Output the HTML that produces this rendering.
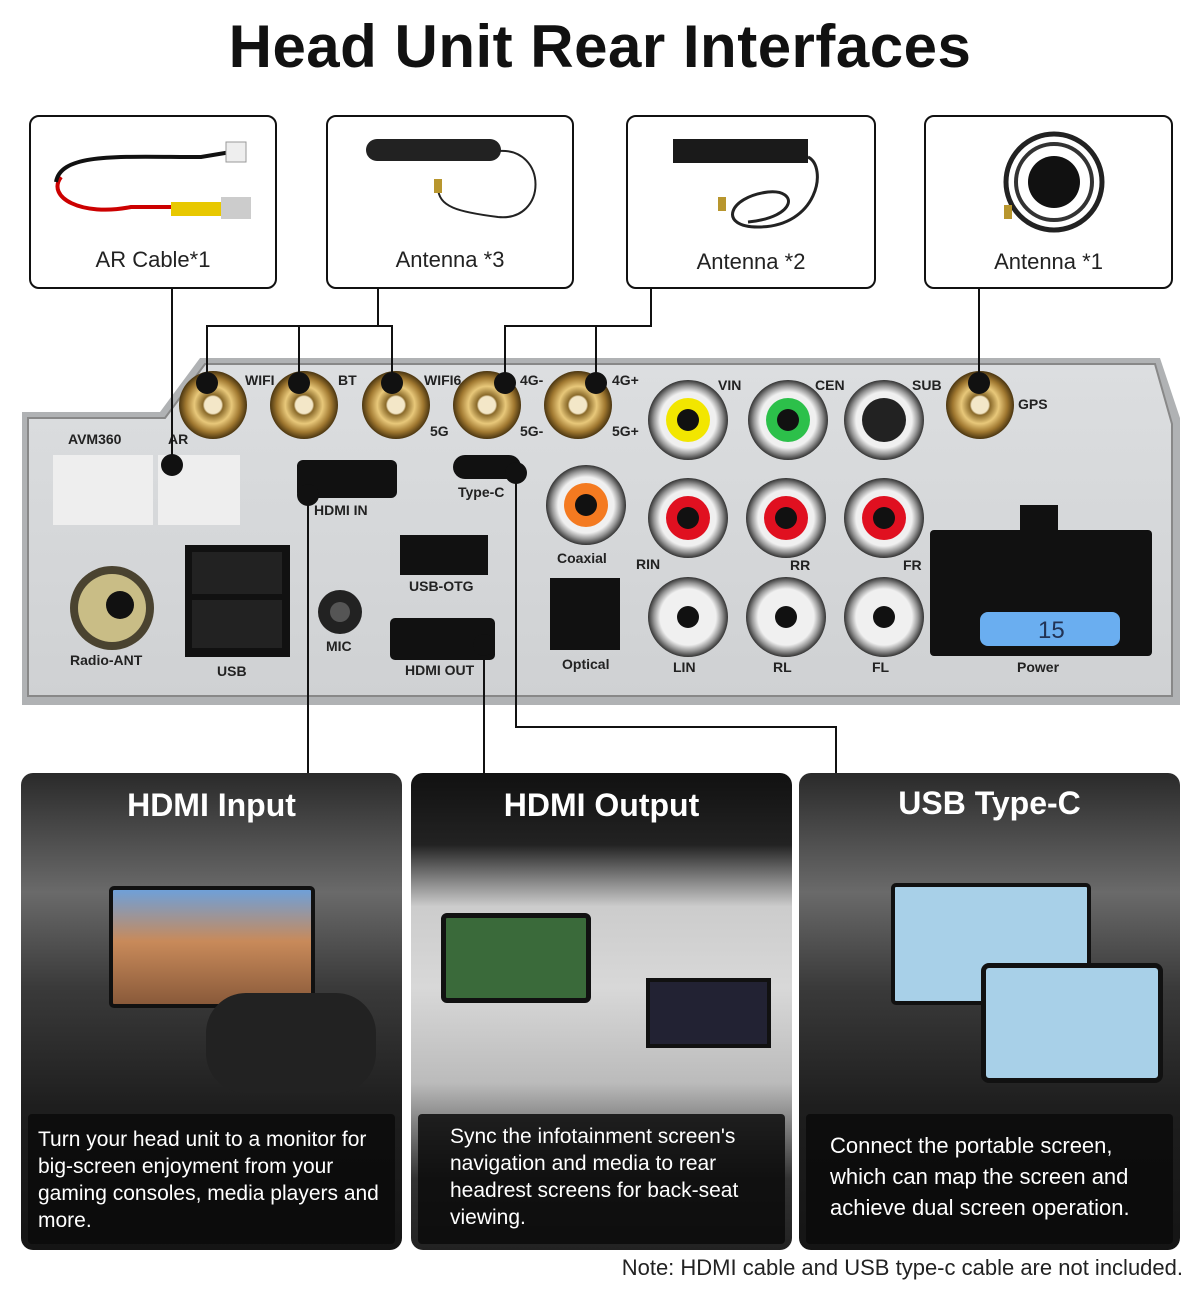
<!DOCTYPE html>
<html><head><meta charset="utf-8"><style>
*{margin:0;padding:0;box-sizing:border-box}
body{width:1200px;height:1303px;background:#fff;font-family:"Liberation Sans",sans-serif;position:relative;overflow:hidden}
h1{position:absolute;top:12px;left:0;width:1200px;text-align:center;font-size:60px;font-weight:bold;color:#111;letter-spacing:0.5px}
.box{position:absolute;top:115px;height:174px;border:2px solid #111;border-radius:10px;background:#fff}
.box span{position:absolute;bottom:14px;left:0;right:0;text-align:center;font-size:22px;color:#222}
.card{position:absolute;top:773px;height:477px;border-radius:12px;overflow:hidden;background:linear-gradient(#2a2a2a,#6a6a6a 25%,#3a3a3a 45%,#1e1e1e 70%,#151515)}
.card h2{position:absolute;top:14px;left:0;right:0;text-align:center;color:#fff;font-size:32px;font-weight:bold}
.cap{position:absolute;left:7px;right:7px;bottom:6px;height:130px;background:rgba(10,10,10,0.85);border-radius:4px;color:#fff;font-size:21px;line-height:27px;padding:12px 10px}
.note{position:absolute;top:1255px;right:17px;font-size:22px;color:#222}
</style></head><body>
<h1>Head Unit Rear Interfaces</h1>
<div class="box" style="left:29px;width:248px">
<svg width="244" height="120" style="position:absolute;left:10px;top:20px"><path d="M20 40 C5 60 40 80 90 70 L170 70" stroke="#c00" stroke-width="4" fill="none"/><path d="M15 45 C20 15 80 20 160 20 L190 15" stroke="#111" stroke-width="4" fill="none"/><rect x="130" y="65" width="50" height="14" fill="#e8c800"/><rect x="180" y="60" width="30" height="22" fill="#ccc"/><rect x="185" y="5" width="20" height="20" fill="#eee" stroke="#999"/></svg>
<span>AR Cable*1</span></div>
<div class="box" style="left:326px;width:248px">
<svg width="244" height="120" style="position:absolute;left:0;top:10px"><rect x="38" y="12" width="135" height="22" rx="11" fill="#222"/><path d="M170 24 C220 20 220 95 170 90 C130 85 110 80 110 60" stroke="#222" stroke-width="2" fill="none"/><rect x="106" y="52" width="8" height="14" fill="#b8962e"/></svg>
<span>Antenna *3</span></div>
<div class="box" style="left:626px;width:250px">
<svg width="246" height="120" style="position:absolute;left:0;top:10px"><rect x="45" y="12" width="135" height="24" fill="#1a1a1a"/><path d="M180 30 C200 40 190 100 130 100 C90 100 100 70 140 65 C170 62 170 90 120 95" stroke="#222" stroke-width="3" fill="none"/><rect x="90" y="70" width="8" height="14" fill="#b8962e"/></svg>
<span style="bottom:12px">Antenna *2</span></div>
<div class="box" style="left:924px;width:249px">
<svg width="245" height="120" style="position:absolute;left:0;top:10px"><circle cx="128" cy="55" r="48" fill="none" stroke="#222" stroke-width="5"/><circle cx="128" cy="55" r="38" fill="none" stroke="#333" stroke-width="4"/><circle cx="128" cy="55" r="26" fill="#111"/><rect x="78" y="78" width="8" height="14" fill="#b8962e"/></svg>
<span style="bottom:12px">Antenna *1</span></div>

<svg width="1200" height="1303" style="position:absolute;left:0;top:0">
<defs>
<radialGradient id="gold"><stop offset="0.25" stop-color="#f3e7c8"/><stop offset="0.3" stop-color="#8a6a2a"/><stop offset="0.55" stop-color="#e8c87a"/><stop offset="0.8" stop-color="#a07830"/><stop offset="1" stop-color="#4a3510"/></radialGradient>
<radialGradient id="rca"><stop offset="0.7" stop-color="#f0f0f0"/><stop offset="0.85" stop-color="#999"/><stop offset="1" stop-color="#333"/></radialGradient>
<linearGradient id="panel" x1="0" y1="0" x2="0" y2="1"><stop offset="0" stop-color="#dcdee0"/><stop offset="1" stop-color="#cfd1d3"/></linearGradient>
</defs>
<path d="M22 412 L160 412 L200 358 L1160 358 L1180 418 L1180 705 L22 705 Z" fill="#b0b2b4"/>
<path d="M28 418 L165 418 L205 364 L1155 364 L1172 424 L1172 696 L28 696 Z" fill="url(#panel)" stroke="#888" stroke-width="2"/>
<g font-size="14" font-weight="bold" fill="#222">
<text x="68" y="444">AVM360</text><text x="168" y="444">AR</text>
<text x="245" y="385">WIFI</text><text x="338" y="385">BT</text><text x="424" y="385">WIFI6</text><text x="520" y="385">4G-</text><text x="612" y="385">4G+</text>
<text x="430" y="436">5G</text><text x="520" y="436">5G-</text><text x="612" y="436">5G+</text>
<text x="718" y="390">VIN</text><text x="815" y="390">CEN</text><text x="912" y="390">SUB</text><text x="1018" y="409">GPS</text>
<text x="314" y="515">HDMI IN</text><text x="458" y="497">Type-C</text><text x="409" y="591">USB-OTG</text>
<text x="557" y="563">Coaxial</text><text x="636" y="569">RIN</text><text x="790" y="570">RR</text><text x="903" y="570">FR</text>
<text x="70" y="665">Radio-ANT</text><text x="217" y="676">USB</text><text x="326" y="651">MIC</text><text x="405" y="675">HDMI OUT</text>
<text x="562" y="669">Optical</text><text x="673" y="672">LIN</text><text x="773" y="672">RL</text><text x="872" y="672">FL</text><text x="1017" y="672">Power</text>
</g>
<g fill="url(#gold)"><circle cx="213" cy="405" r="34"/><circle cx="304" cy="405" r="34"/><circle cx="396" cy="405" r="34"/><circle cx="487" cy="405" r="34"/><circle cx="578" cy="405" r="34"/><circle cx="980" cy="405" r="34"/></g>
<g fill="#eee"><rect x="53" y="455" width="100" height="70"/><rect x="158" y="455" width="82" height="70"/></g>
<g fill="#111"><rect x="297" y="460" width="100" height="38" rx="6"/><rect x="453" y="455" width="68" height="24" rx="12"/><rect x="400" y="535" width="88" height="40"/><rect x="390" y="618" width="105" height="42" rx="5"/><rect x="185" y="545" width="105" height="112"/><rect x="550" y="578" width="70" height="72"/><rect x="930" y="530" width="222" height="126" rx="4"/><rect x="1020" y="505" width="38" height="28"/></g>
<rect x="192" y="552" width="90" height="42" fill="#222"/><rect x="192" y="600" width="90" height="48" fill="#222"/>
<rect x="980" y="612" width="140" height="34" rx="8" fill="#6aaef0"/><text x="1038" y="638" font-size="24" fill="#235">15</text>
<circle cx="112" cy="608" r="42" fill="#4a4330"/><circle cx="112" cy="608" r="34" fill="#c9bd86"/><circle cx="120" cy="605" r="14" fill="#111"/>
<circle cx="340" cy="612" r="22" fill="#222"/><circle cx="340" cy="612" r="10" fill="#555"/>
<g fill="url(#rca)"><circle cx="688" cy="420" r="40"/><circle cx="788" cy="420" r="40"/><circle cx="884" cy="420" r="40"/><circle cx="586" cy="505" r="40"/><circle cx="688" cy="518" r="40"/><circle cx="786" cy="518" r="40"/><circle cx="884" cy="518" r="40"/><circle cx="688" cy="617" r="40"/><circle cx="786" cy="617" r="40"/><circle cx="884" cy="617" r="40"/></g>
<circle cx="688" cy="420" r="22" fill="#f2e600"/><circle cx="788" cy="420" r="22" fill="#2cc04a"/><circle cx="884" cy="420" r="22" fill="#222"/><circle cx="586" cy="505" r="22" fill="#f47a20"/>
<g fill="#e01020"><circle cx="688" cy="518" r="22"/><circle cx="786" cy="518" r="22"/><circle cx="884" cy="518" r="22"/></g>
<g fill="#111"><circle cx="688" cy="420" r="11"/><circle cx="788" cy="420" r="11"/><circle cx="586" cy="505" r="11"/><circle cx="688" cy="518" r="11"/><circle cx="786" cy="518" r="11"/><circle cx="884" cy="518" r="11"/><circle cx="688" cy="617" r="11"/><circle cx="786" cy="617" r="11"/><circle cx="884" cy="617" r="11"/></g>
<g stroke="#111" stroke-width="2" fill="none">
<path d="M172 288 V465"/><path d="M378 288 V326 M207 383 V326 H392 V383 M299 326 V383"/>
<path d="M651 288 V326 H505 V383 M596 326 V383"/><path d="M979 288 V383"/>
<path d="M308 495 V773"/><path d="M484 645 V773"/><path d="M516 473 V727 H836 V773"/>
</g>
<g fill="#111"><circle cx="207" cy="383" r="11"/><circle cx="299" cy="383" r="11"/><circle cx="392" cy="383" r="11"/><circle cx="505" cy="383" r="11"/><circle cx="596" cy="383" r="11"/><circle cx="979" cy="383" r="11"/><circle cx="172" cy="465" r="11"/><circle cx="308" cy="495" r="11"/><circle cx="516" cy="473" r="11"/><circle cx="484" cy="645" r="11"/></g>
</svg>

<div class="card" style="left:21px;width:381px"><h2>HDMI Input</h2>
<div style="position:absolute;left:88px;top:113px;width:206px;height:122px;background:linear-gradient(#6fa0d8,#c88a5a 45%,#8a5a3a);border:4px solid #111;border-radius:5px"></div>
<div style="position:absolute;left:185px;top:220px;width:170px;height:100px;background:#222;border-radius:40px"></div>
<div class="cap" style="padding-left:10px;padding-right:4px">Turn your head unit to a monitor for big-screen enjoyment from your gaming consoles, media players and more.</div></div>
<div class="card" style="left:411px;width:381px;background:linear-gradient(#111,#222 15%,#ccc 28%,#d8d8d8 45%,#bbb 65%,#333 85%,#222)"><h2>HDMI Output</h2>
<div style="position:absolute;left:30px;top:140px;width:150px;height:90px;background:#3a6a3a;border:5px solid #111;border-radius:6px"></div>
<div style="position:absolute;left:235px;top:205px;width:125px;height:70px;background:#223;border:4px solid #111"></div>
<div class="cap" style="padding-left:32px;padding-top:9px;padding-right:20px">Sync the infotainment screen's navigation and media to rear headrest screens for back-seat viewing.</div></div>
<div class="card" style="left:799px;width:381px"><h2 style="top:12px">USB Type-C</h2>
<div style="position:absolute;left:92px;top:110px;width:200px;height:122px;background:#a8d0e8;border:4px solid #111;border-radius:5px"></div>
<div style="position:absolute;left:182px;top:190px;width:182px;height:120px;background:#a8d0e8;border:5px solid #111;border-radius:8px"></div>
<div class="cap" style="padding-left:24px;padding-right:30px;padding-top:16px;line-height:31px;font-size:22px">Connect the portable screen, which can map the screen and achieve dual screen operation.</div></div>
<div class="note">Note: HDMI cable and USB type-c cable are not included.</div>
</body></html>
